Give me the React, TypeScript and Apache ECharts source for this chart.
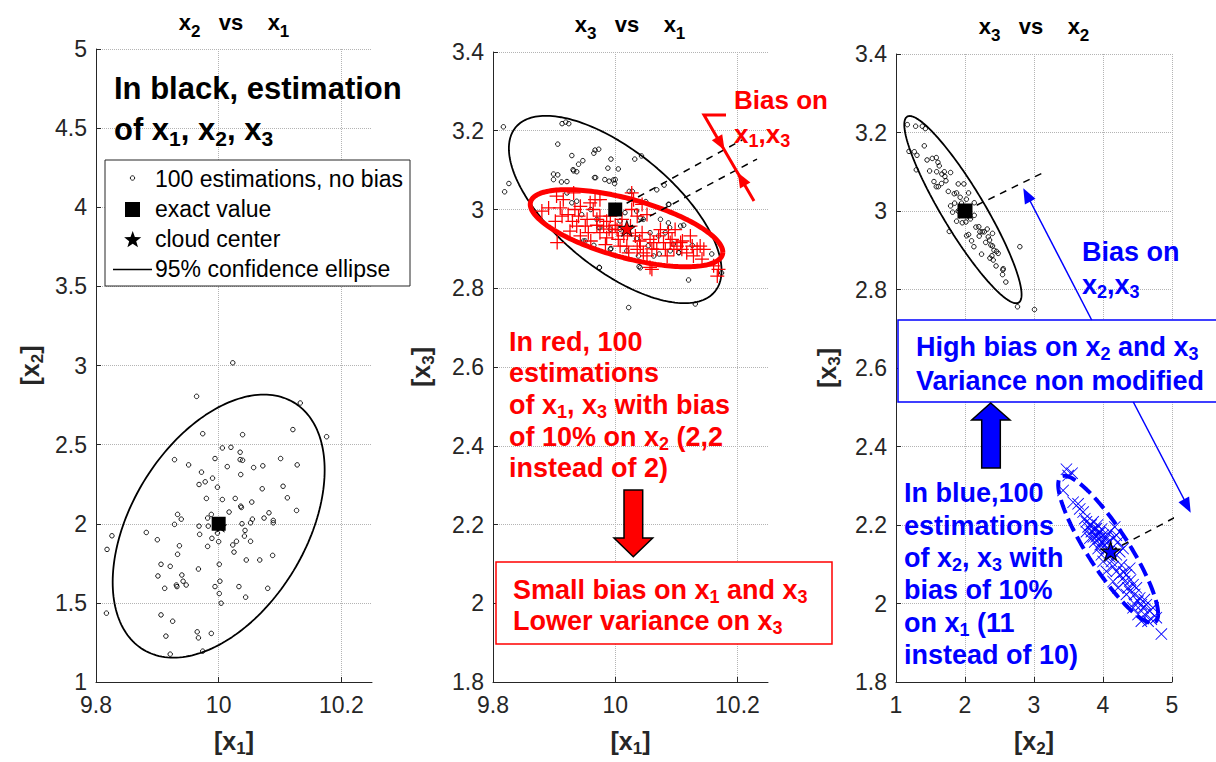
import React, { useEffect, useRef } from 'react';
import * as echarts from 'echarts';

const FONT = "'Liberation Sans', Arial, Helvetica, sans-serif";

// ---------- Panel 1 : x2 vs x1 ----------
const p1XRange = [9.8, 10.25];
const p1XInterval = 0.2;
const p1YRange = [1, 5];
const p1YInterval = 0.5;
const p1Estimates: number[][] = [
  [9.964, 2.805], [10.133, 2.763], [9.974, 2.569], [10.039, 2.563], [10.121, 2.595], [10.176, 2.55],
  [10.006, 2.479], [10.02, 2.483], [10.035, 2.452], [9.928, 2.405], [9.994, 2.412], [10.035, 2.405],
  [10.039, 2.401], [10.101, 2.412], [9.951, 2.372], [10.014, 2.361], [10.057, 2.355], [10.072, 2.366],
  [10.128, 2.372], [9.972, 2.326], [10.036, 2.311], [9.978, 2.265], [9.99, 2.288], [9.968, 2.248],
  [9.998, 2.231], [10.071, 2.221], [10.105, 2.237], [9.98, 2.16], [10.006, 2.153], [10.027, 2.16],
  [10.054, 2.137], [10.112, 2.164], [10.036, 2.111], [10.037, 2.103], [10.017, 2.074], [10.127, 2.084],
  [9.933, 2.059], [9.939, 2.029], [9.988, 2.059], [9.982, 2.036], [10.082, 2.069], [9.928, 1.996],
  [9.968, 1.985], [9.983, 1.985], [10.038, 2.0], [10.052, 2.006], [10.055, 2.029], [10.074, 2.036],
  [10.089, 2.021], [10.089, 2.006], [9.826, 1.924], [9.818, 1.838], [9.882, 1.945], [9.9, 1.899],
  [9.969, 1.933], [9.989, 1.908], [9.998, 1.941], [10.0, 1.887], [10.043, 1.958], [10.042, 1.922],
  [10.029, 1.889], [10.023, 1.866], [10.052, 1.889], [10.025, 1.821], [9.936, 1.861], [9.933, 1.807],
  [9.982, 1.857], [10.045, 1.771], [10.067, 1.771], [10.088, 1.8], [9.906, 1.744], [9.921, 1.731],
  [9.967, 1.714], [10.001, 1.744], [9.901, 1.67], [9.94, 1.676], [9.942, 1.637], [9.947, 1.613],
  [9.931, 1.613], [9.932, 1.603], [9.912, 1.592], [10.002, 1.637], [9.994, 1.603], [10.033, 1.603],
  [10.08, 1.592], [10.001, 1.559], [10.044, 1.536], [10.004, 1.498], [9.817, 1.435], [9.906, 1.424],
  [9.925, 1.384], [9.914, 1.29], [9.965, 1.317], [9.967, 1.279], [9.988, 1.307], [9.974, 1.195],
  [9.921, 1.176], [10.023, 3.017],
];
const p1Exact = [[10, 2]];
const p1CloudCenter = [[10.003, 1.985]];
// ellipse: centre x, centre y, var x, cov xy, var y
const p1Ellipse = [10.0, 1.985, 0.02986, 0.0612, 0.6906];

// ---------- Panel 2 : x3 vs x1 ----------
const p2XRange = [9.8, 10.25];
const p2XInterval = 0.2;
const p2YRange = [1.8, 3.4];
const p2YInterval = 0.2;
const p2Estimates: number[][] = [
  [9.817, 3.21], [9.819, 3.045], [9.826, 3.066], [9.906, 3.166], [9.913, 3.218], [9.919, 3.222],
  [9.924, 3.218], [9.929, 3.137], [9.899, 3.09], [9.906, 3.088], [9.899, 3.076], [9.912, 3.07],
  [9.921, 3.071], [9.931, 3.101], [9.932, 3.098], [9.937, 3.096], [9.94, 3.115], [9.947, 3.124],
  [9.966, 3.081], [9.968, 3.081], [9.965, 3.143], [9.967, 3.151], [9.973, 3.153], [9.983, 3.076],
  [9.988, 3.105], [9.993, 3.128], [10.005, 3.103], [9.99, 3.072], [9.997, 3.075], [10.0, 3.076],
  [9.999, 3.066], [10.023, 3.046], [10.028, 3.046], [10.032, 3.128], [10.043, 3.136], [10.068, 3.05],
  [10.08, 3.062], [10.088, 3.013], [9.921, 3.042], [9.929, 3.017], [9.937, 3.021], [9.945, 2.987],
  [9.951, 2.92], [9.965, 2.909], [9.973, 2.954], [9.974, 2.853], [9.992, 2.95], [9.993, 2.901],
  [10.008, 2.95], [10.019, 2.895], [10.022, 2.751], [10.038, 2.882], [10.039, 2.855], [10.035, 2.996],
  [10.041, 2.979], [10.046, 2.975], [10.054, 2.908], [10.057, 2.941], [10.071, 2.933], [10.074, 2.975],
  [10.072, 2.887], [10.082, 2.941], [10.087, 2.966], [10.089, 2.954], [10.095, 2.912], [10.104, 2.891],
  [10.112, 2.96], [10.12, 2.821], [10.126, 2.909], [10.131, 2.76], [10.174, 2.839], [10.158, 2.887],
  [10.016, 2.992], [10.008, 2.971], [10.035, 2.926], [9.97, 2.975], [9.975, 2.954], [9.948, 2.92],
  [9.992, 2.899], [10.087, 3.013], [10.107, 2.958], [10.104, 2.89], [10.041, 2.852], [9.974, 2.852],
  [10.063, 2.882], [10.09, 2.895], [9.96, 3.0], [10.05, 3.02],
];
const p2Biased: number[][] = [
  [9.88, 2.996], [9.904, 3.034], [9.91, 3.004], [9.913, 2.983], [9.902, 2.97], [9.923, 2.987],
  [9.932, 3.042], [9.934, 3.0], [9.94, 2.983], [9.943, 3.008], [9.926, 2.945], [9.937, 2.958],
  [9.943, 2.933], [9.951, 2.958], [9.956, 2.941], [9.959, 3.017], [9.964, 3.0], [9.967, 3.025],
  [9.975, 3.025], [9.975, 2.983], [9.975, 2.941], [9.981, 2.958], [9.986, 2.928], [9.984, 2.911],
  [9.992, 2.983], [9.995, 2.941], [10.003, 2.949], [10.005, 2.924], [10.008, 2.907], [10.014, 2.933],
  [10.019, 2.907], [10.022, 2.89], [10.025, 2.958], [10.027, 3.0], [10.03, 3.025], [10.033, 2.933],
  [10.036, 2.899], [10.041, 2.907], [10.044, 2.941], [10.046, 2.89], [10.052, 2.882], [10.057, 2.924],
  [10.06, 2.848], [10.063, 2.916], [10.068, 2.899], [10.071, 2.933], [10.074, 2.949], [10.079, 2.916],
  [10.082, 2.899], [10.085, 2.882], [10.087, 2.941], [10.09, 2.916], [10.093, 2.924], [10.096, 2.899],
  [10.098, 2.949], [10.101, 2.907], [10.107, 2.916], [10.109, 2.899], [10.117, 2.89], [10.123, 2.933],
  [10.126, 2.907], [10.128, 2.882], [10.134, 2.899], [10.139, 2.907], [10.142, 2.874], [10.145, 2.899],
  [10.161, 2.857], [10.169, 2.848], [10.167, 2.831], [10.027, 3.042], [10.036, 2.983], [10.044, 3.013],
  [10.052, 2.987], [10.011, 2.975], [9.915, 3.025], [9.891, 3.004], [9.954, 2.975], [9.97, 2.975],
  [9.986, 2.97], [9.905, 2.916], [10.057, 2.853], [9.96, 2.92], [9.99, 2.95], [10.0, 2.96],
  [10.06, 2.9], [10.11, 2.92], [9.93, 2.97], [9.97, 2.96], [10.02, 2.94], [10.04, 2.92],
];
const p2Exact = [[10, 3]];
const p2BiasedCenter = [[10.019, 2.952]];
const p2Ellipse = [10.0, 3.0, 0.03028, -0.027, 0.05664];
const p2BiasedEllipse = [10.0185, 2.9525, 0.02481, -0.00955, 0.009584];
const p2BiasLineA = [[10.0, 3.0], [10.208, 3.177]];
const p2BiasLineB = [[10.019, 2.952], [10.232, 3.128]];

// ---------- Panel 3 : x3 vs x2 ----------
const p3XRange = [1, 5];
const p3XInterval = 1;
const p3YRange = [1.8, 3.4];
const p3YInterval = 0.2;
const p3Estimates: number[][] = [
  [1.164, 3.22], [1.285, 3.216], [1.381, 3.216], [1.425, 3.21], [1.188, 3.152], [1.265, 3.151],
  [1.304, 3.142], [1.294, 3.105], [1.41, 3.166], [1.526, 3.134], [1.584, 3.136], [1.608, 3.124],
  [1.627, 3.115], [1.487, 3.102], [1.589, 3.1], [1.665, 3.094], [1.709, 3.088], [1.724, 3.077],
  [1.791, 3.098], [1.55, 3.075], [1.584, 3.062], [1.613, 3.062], [1.758, 3.05], [1.844, 3.044],
  [1.878, 3.046], [1.902, 3.069], [1.984, 3.069], [2.052, 3.046], [1.791, 3.013], [1.82, 2.997],
  [1.878, 2.974], [2.047, 2.989], [2.134, 2.989], [2.134, 3.021], [1.772, 2.948], [2.013, 2.972],
  [2.023, 2.937], [2.052, 2.94], [2.095, 2.924], [2.129, 2.909], [2.158, 2.959], [2.216, 2.947],
  [2.25, 2.947], [2.279, 2.947], [2.322, 2.954], [2.399, 2.943], [2.206, 2.936], [2.337, 2.934],
  [2.356, 2.926], [2.375, 2.913], [2.399, 2.911], [2.24, 2.89], [2.361, 2.88], [2.39, 2.886],
  [2.409, 2.875], [2.457, 2.897], [2.481, 2.892], [2.554, 2.853], [2.549, 2.85], [2.544, 2.838],
  [2.592, 2.819], [2.795, 2.909], [2.761, 2.756], [3.007, 2.749], [1.95, 3.02], [2.05, 3.01],
  [1.9, 3.0], [2.08, 2.98], [1.96, 2.97], [2.02, 3.03], [1.93, 3.035], [1.7, 3.1], [1.66, 3.07],
  [1.45, 3.13], [1.85, 3.02], [2.2, 2.96], [2.45, 2.86], [2.3, 2.92], [2.42, 2.9],
];
const p3Biased: number[][] = [
  [3.47, 2.342], [3.552, 2.332], [3.495, 2.326], [3.422, 2.288], [3.567, 2.258], [3.639, 2.254],
  [3.663, 2.241], [3.712, 2.233], [3.736, 2.216], [3.76, 2.208], [3.784, 2.195], [3.808, 2.199],
  [3.832, 2.183], [3.857, 2.208], [3.905, 2.191], [3.929, 2.178], [3.953, 2.166], [3.977, 2.157],
  [4.001, 2.174], [4.025, 2.149], [4.049, 2.14], [4.074, 2.157], [4.098, 2.183], [4.146, 2.166],
  [4.17, 2.195], [4.194, 2.174], [4.218, 2.157], [4.242, 2.132], [4.098, 2.119], [4.122, 2.107],
  [4.146, 2.094], [4.194, 2.082], [4.242, 2.073], [4.267, 2.098], [4.291, 2.065], [4.315, 2.056],
  [4.339, 2.073], [4.363, 2.04], [4.387, 2.031], [4.435, 2.048], [4.46, 2.023], [4.484, 2.04],
  [4.508, 2.006], [4.532, 2.014], [4.556, 1.997], [4.58, 1.989], [4.604, 1.972], [4.628, 1.997],
  [4.653, 1.955], [4.677, 1.981], [4.725, 1.989], [4.773, 1.964], [4.846, 1.922], [4.001, 2.107],
  [4.049, 2.082], [4.194, 2.124], [4.291, 2.14], [4.387, 2.09], [3.76, 2.183], [3.808, 2.166],
  [3.881, 2.157], [3.929, 2.14], [3.977, 2.124], [4.146, 2.056], [4.218, 2.04], [4.339, 2.023],
  [4.435, 1.989], [4.508, 1.972], [4.556, 1.955], [3.88, 2.19], [3.9, 2.17], [3.95, 2.18],
  [3.86, 2.17], [3.92, 2.2], [3.98, 2.19], [4.02, 2.16], [4.05, 2.17], [3.83, 2.2], [3.96, 2.15],
  [4.3, 2.08], [4.4, 2.06], [4.45, 2.0], [4.6, 2.01], [4.7, 1.96],
];
const p3Exact = [[2, 3]];
const p3CloudCenter = [[1.98, 2.998]];
const p3BiasedCenter = [[4.11, 2.133]];
const p3Ellipse = [1.97, 3.0035, 0.7225, -0.184, 0.05688];
const p3BiasedEllipse = [4.075, 2.138, 0.5242, -0.119, 0.03516];
const p3BiasLineA = [[2, 3], [3.16, 3.1]];
const p3BiasLineB = [[4.11, 2.133], [5.46, 2.258]];

// ---------- helpers ----------
const STAR = 'path://M50,0L61.2,34.5L97.6,34.5L68.2,55.9L79.4,90.5L50,69.1L20.6,90.5L31.8,55.9L2.4,34.5L38.8,34.5Z';
const PLUS = 'path://M0,9.1L20,9.1L20,10.9L0,10.9ZM9.1,0L10.9,0L10.9,20L9.1,20Z';
const CROSS = 'path://M1,0L20,19L19,20L0,1ZM19,0L20,1L1,20L0,19Z';

function ellipsePoints(e: number[]) {
  const [cx, cy, sxx, sxy, syy] = e;
  const a11 = Math.sqrt(sxx);
  const a21 = sxy / a11;
  const a22 = Math.sqrt(syy - a21 * a21);
  const pts: number[][] = [];
  for (let i = 0; i <= 200; i++) {
    const t = (2 * Math.PI * i) / 200;
    pts.push([cx + a11 * Math.cos(t), cy + a21 * Math.cos(t) + a22 * Math.sin(t)]);
  }
  return pts;
}

// main text + subscript tokens; subscript centre lies `shift` px below main centre
function richFor(size: number, color: string, bold = true, subSize?: number, shift?: number) {
  const ss = subSize ?? Math.round(size * 0.68);
  const sh = shift ?? 7;
  const L = Math.max(size, 2 * sh + ss);
  const w = bold ? 'bold' : 'normal';
  return {
    n: { fontSize: size, fontWeight: w, fill: color, color, fontFamily: FONT, lineHeight: L },
    s: { fontSize: ss, fontWeight: w, fill: color, color, fontFamily: FONT, lineHeight: ss, verticalAlign: 'bottom' },
  };
}

function gtext(x: number, y: number, text: string, size: number, color: string, align = 'left', subSize?: number, shift?: number, bold = true) {
  return {
    type: 'text',
    z: 100,
    x,
    y,
    style: {
      text,
      rich: richFor(size, color, bold, subSize, shift),
      fontSize: size,
      fontWeight: bold ? 'bold' : 'normal',
      fontFamily: FONT,
      fill: color,
      align,
      verticalAlign: 'middle',
    },
  };
}

function axisName(label: string, sub: string) {
  return `{n|[${label}}{s|${sub}}{n|]}`;
}

const axisNameStyle = { rich: richFor(25, '#262626', true, 17, 8) };
const tickColor = '#262626';

function makeX(gi: number, range: number[], interval: number, sub: string, hideMax: boolean) {
  return {
    type: 'value',
    gridIndex: gi,
    min: range[0],
    max: range[1],
    interval,
    name: axisName('x', sub),
    nameLocation: 'middle',
    nameGap: 42,
    nameTextStyle: axisNameStyle,
    axisLine: { onZero: false, lineStyle: { color: tickColor, width: 1 } },
    axisTick: { inside: true, length: 5, lineStyle: { color: tickColor } },
    axisLabel: { color: tickColor, fontSize: 23, fontFamily: FONT, margin: 11, showMaxLabel: !hideMax },
    splitLine: { show: true, showMaxLine: !hideMax, lineStyle: { color: '#b4b4b4', type: 'dotted', width: 1 } },
  };
}

function makeY(gi: number, range: number[], interval: number, sub: string, gap: number) {
  return {
    type: 'value',
    gridIndex: gi,
    min: range[0],
    max: range[1],
    interval,
    name: axisName('x', sub),
    nameLocation: 'middle',
    nameGap: gap,
    nameTextStyle: axisNameStyle,
    axisLine: { onZero: false, lineStyle: { color: tickColor, width: 1 } },
    axisTick: { inside: true, length: 5, lineStyle: { color: tickColor } },
    axisLabel: { color: tickColor, fontSize: 23, fontFamily: FONT, margin: 9 },
    splitLine: { show: true, lineStyle: { color: '#b4b4b4', type: 'dotted', width: 1 } },
  };
}

function scatter(gi: number, data: number[][], symbol: string, size: number, itemStyle: any, z = 2) {
  return {
    type: 'scatter', xAxisIndex: gi, yAxisIndex: gi, data, symbol, symbolSize: size,
    itemStyle: { opacity: 1, ...itemStyle }, z, silent: true, symbolKeepAspect: true,
  };
}

function line(gi: number, data: number[][], lineStyle: any, z = 3, clip = true) {
  return { type: 'line', xAxisIndex: gi, yAxisIndex: gi, data, showSymbol: false, symbol: 'none', lineStyle, z, clip, silent: true, smooth: false };
}

const openCircle = { color: 'rgba(0,0,0,0)', borderColor: '#000', borderWidth: 0.9 };

function starPolygon(cx: number, cy: number, R: number, r: number) {
  const pts: number[][] = [];
  for (let i = 0; i < 10; i++) {
    const a = -Math.PI / 2 + (i * Math.PI) / 5;
    const rad = i % 2 === 0 ? R : r;
    pts.push([cx + rad * Math.cos(a), cy + rad * Math.sin(a)]);
  }
  return pts;
}

function arrowHead(tip: number[], from: number[], len: number, half: number, color: string) {
  const dx = tip[0] - from[0];
  const dy = tip[1] - from[1];
  const L = Math.hypot(dx, dy);
  const ux = dx / L, uy = dy / L;
  const bx = tip[0] - ux * len, by = tip[1] - uy * len;
  return {
    type: 'polygon', z: 101,
    shape: { points: [tip, [bx - uy * half, by + ux * half], [bx + uy * half, by - ux * half]] },
    style: { fill: color },
  };
}

export default function App() {
  const ref = useRef<HTMLDivElement>(null);
  useEffect(() => {
    if (!ref.current) return;
    const chart = echarts.init(ref.current, undefined, { renderer: 'svg' });
    const RED = '#ff0000';
    const BLUE = '#0000ff';

    const graphic: any[] = [
      // titles
      gtext(234, 22, '{n|x}{s|2}{n|   vs    x}{s|1}', 22, '#000', 'center', 17, 9),
      gtext(630, 24, '{n|x}{s|3}{n|   vs    x}{s|1}', 22, '#000', 'center', 17, 9),
      gtext(1034, 26, '{n|x}{s|3}{n|   vs    x}{s|2}', 22, '#000', 'center', 17, 9),
      // panel 1 notes & legend
      gtext(114, 88, '{n|In black, estimation}', 31, '#000'),
      gtext(114, 129, '{n|of x}{s|1}{n|, x}{s|2}{n|, x}{s|3}', 31, '#000', 'left', 21, 9),
      { type: 'rect', z: 100, shape: { x: 105, y: 160, width: 305, height: 126 }, style: { fill: '#fff', stroke: '#262626', lineWidth: 1 } },
      { type: 'circle', z: 101, shape: { cx: 132.5, cy: 178, r: 2.2 }, style: { fill: 'none', stroke: '#000', lineWidth: 0.9 } },
      { type: 'rect', z: 101, shape: { x: 125, y: 202, width: 15, height: 15 }, style: { fill: '#000' } },
      { type: 'polygon', z: 101, shape: { points: starPolygon(132.7, 240, 9, 3.7) }, style: { fill: '#000' } },
      { type: 'line', z: 101, shape: { x1: 113, y1: 269.5, x2: 152, y2: 269.5 }, style: { stroke: '#000', lineWidth: 1.5 } },
      gtext(155, 179, '{n|100 estimations, no bias}', 23, '#000', 'left', undefined, undefined, false),
      gtext(155, 209, '{n|exact value}', 23, '#000', 'left', undefined, undefined, false),
      gtext(155, 239, '{n|cloud center}', 23, '#000', 'left', undefined, undefined, false),
      gtext(155, 269, '{n|95% confidence ellipse}', 23, '#000', 'left', undefined, undefined, false),

      // panel 2 annotations
      gtext(734, 100, '{n|Bias on}', 26, RED),
      gtext(734, 134, '{n|x}{s|1}{n|,x}{s|3}', 26, RED),
      { type: 'polyline', z: 101, shape: { points: [[726, 115], [704, 115], [754, 201]] }, style: { stroke: RED, lineWidth: 3, fill: 'none' } },
      arrowHead([724.6, 150.3], [704, 115], 15, 6, RED),
      arrowHead([737.8, 172.5], [754, 201], 15, 6, RED),
      gtext(509, 342, '{n|In red, 100}', 27, RED),
      gtext(509, 373, '{n|estimations}', 27, RED),
      gtext(509, 405, '{n|of x}{s|1}{n|, x}{s|3}{n| with bias}', 27, RED),
      gtext(509, 437, '{n|of 10% on x}{s|2}{n| (2,2}', 27, RED),
      gtext(509, 468, '{n|instead of 2)}', 27, RED),
      {
        type: 'polygon', z: 101,
        shape: { points: [[624, 490], [642.7, 490], [642.7, 538], [652.7, 538], [633.3, 556.7], [614, 538], [624, 538]] },
        style: { fill: RED, stroke: '#000', lineWidth: 1.5 },
      },
      { type: 'rect', z: 100, shape: { x: 496, y: 562, width: 336, height: 82 }, style: { fill: '#fff', stroke: RED, lineWidth: 1.5 } },
      gtext(513, 590, '{n|Small bias on x}{s|1}{n| and x}{s|3}', 27, RED),
      gtext(513, 621, '{n|Lower variance on x}{s|3}', 27, RED),

      // panel 3 annotations
      gtext(1082, 252, '{n|Bias on}', 27, BLUE),
      gtext(1082, 285, '{n|x}{s|2}{n|,x}{s|3}', 27, BLUE),
      { type: 'line', z: 101, shape: { x1: 1091.7, y1: 320, x2: 1027, y2: 195 }, style: { stroke: BLUE, lineWidth: 1.5 } },
      arrowHead([1023.3, 188.3], [1091.7, 320], 15, 6, BLUE),
      { type: 'line', z: 101, shape: { x1: 1133.3, y1: 402, x2: 1187, y2: 505 }, style: { stroke: BLUE, lineWidth: 1.5 } },
      arrowHead([1190.7, 512.7], [1133.3, 402], 15, 6, BLUE),
      { type: 'rect', z: 100, shape: { x: 898, y: 320, width: 330, height: 82 }, style: { fill: '#fff', stroke: BLUE, lineWidth: 1.5 } },
      gtext(916, 347, '{n|High bias on x}{s|2}{n| and x}{s|3}', 27, BLUE),
      gtext(916, 381, '{n|Variance non modified}', 27, BLUE),
      {
        type: 'polygon', z: 101,
        shape: { points: [[990.7, 403], [1010, 420], [1000.3, 420], [1000.3, 468], [981.7, 468], [981.7, 420], [971.7, 420]] },
        style: { fill: BLUE, stroke: '#000', lineWidth: 1.5 },
      },
      gtext(904, 493, '{n|In blue,100}', 27, BLUE),
      gtext(904, 526, '{n|estimations}', 27, BLUE),
      gtext(904, 558, '{n|of x}{s|2}{n|, x}{s|3}{n| with}', 27, BLUE),
      gtext(904, 590, '{n|bias of 10%}', 27, BLUE),
      gtext(904, 623, '{n|on x}{s|1}{n| (11}', 27, BLUE),
      gtext(904, 655, '{n|instead of 10)}', 27, BLUE),
    ];

    const option: any = {
      animation: false,
      backgroundColor: '#fff',
      textStyle: { fontFamily: FONT },
      grid: [
        { left: 96, top: 49, width: 276, height: 634 },
        { left: 493, top: 52, width: 275, height: 633 },
        { left: 896, top: 54, width: 276, height: 634 },
      ],
      xAxis: [
        makeX(0, p1XRange, p1XInterval, '1', true),
        makeX(1, p2XRange, p2XInterval, '1', true),
        makeX(2, p3XRange, p3XInterval, '2', false),
      ],
      yAxis: [
        makeY(0, p1YRange, p1YInterval, '2', 50),
        makeY(1, p2YRange, p2YInterval, '3', 56),
        makeY(2, p3YRange, p3YInterval, '3', 53),
      ],
      series: [
        // panel 1
        scatter(0, p1Estimates, 'circle', 4.5, openCircle, 2),
        line(0, ellipsePoints(p1Ellipse), { color: '#000', width: 1.8 }, 3),
        scatter(0, p1CloudCenter, STAR, 14, { color: '#000' }, 4),
        scatter(0, p1Exact, 'rect', 14, { color: '#000' }, 5),
        // panel 2
        scatter(1, p2Estimates, 'circle', 4.5, openCircle, 2),
        line(1, ellipsePoints(p2Ellipse), { color: '#000', width: 1.8 }, 3),
        scatter(1, p2Biased, PLUS, 14, { color: RED }, 4),
        line(1, ellipsePoints(p2BiasedEllipse), { color: RED, width: 5 }, 5),
        line(1, p2BiasLineA, { color: '#000', width: 1.5, type: [7, 6] }, 5),
        line(1, p2BiasLineB, { color: '#000', width: 1.5, type: [7, 6] }, 5),
        scatter(1, p2Exact, 'rect', 14, { color: '#000' }, 6),
        scatter(1, p2BiasedCenter, STAR, 17, { color: RED, borderColor: '#000', borderWidth: 0.8 }, 7),
        // panel 3
        scatter(2, p3Estimates, 'circle', 4.5, openCircle, 2),
        line(2, ellipsePoints(p3Ellipse), { color: '#000', width: 1.8 }, 3),
        scatter(2, p3CloudCenter, STAR, 15, { color: '#000' }, 4),
        scatter(2, p3Exact, 'rect', 15, { color: '#000' }, 5),
        scatter(2, p3Biased, CROSS, 12, { color: BLUE }, 4),
        line(2, ellipsePoints(p3BiasedEllipse), { color: BLUE, width: 4, type: [14, 6] }, 5),
        line(2, p3BiasLineA, { color: '#000', width: 1.5, type: [7, 6] }, 5, false),
        line(2, p3BiasLineB, { color: '#000', width: 1.5, type: [7, 6] }, 5, false),
        scatter(2, p3BiasedCenter, STAR, 19, { color: BLUE, borderColor: '#000', borderWidth: 1.2 }, 7),
      ],
      graphic,
    };
    chart.setOption(option);
    return () => chart.dispose();
  }, []);
  return (
    <div
      ref={ref}
      style={{ position: 'fixed', left: 0, top: 0, width: 1216, height: 762, background: '#fff' }}
    />
  );
}
